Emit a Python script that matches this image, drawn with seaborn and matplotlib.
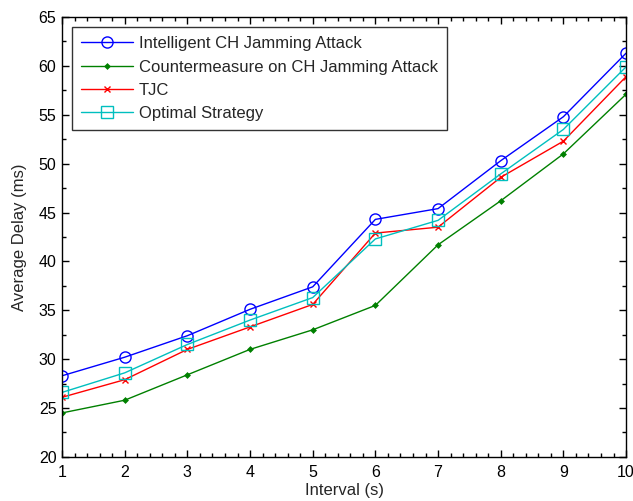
import pandas as pd
import matplotlib
matplotlib.use("Agg")
import matplotlib.pyplot as plt
from matplotlib.ticker import MultipleLocator
import seaborn as sns

intervals = [1, 2, 3, 4, 5, 6, 7, 8, 9, 10]
intelligent = [28.3, 30.2, 32.4, 35.1, 37.4, 44.3, 45.4, 50.3, 54.8, 61.3]
countermeasure = [24.5, 25.8, 28.4, 31.0, 33.0, 35.5, 41.7, 46.2, 51.0, 57.1]
tjc = [26.1, 27.9, 31.0, 33.3, 35.6, 42.9, 43.5, 48.6, 52.3, 58.9]
optimal = [26.6, 28.6, 31.5, 34.0, 36.3, 42.3, 44.2, 48.95, 53.5, 59.9]

labels = ["Intelligent CH Jamming Attack",
          "Countermeasure on CH Jamming Attack",
          "TJC",
          "Optimal Strategy"]

sns.set_style("white")
plt.rcParams["font.family"] = ["Liberation Sans", "DejaVu Sans"]

fig = plt.figure(figsize=(6.33, 5.01), dpi=100)
ax = fig.add_axes([0.098, 0.088, 0.891, 0.878])

styles = [
    (intelligent, "#0000ff", "o", dict(markersize=8, markerfacecolor="none", markeredgewidth=1.0)),
    (countermeasure, "#008000", "D", dict(markersize=3, markerfacecolor="#008000", markeredgewidth=0.5)),
    (tjc, "#ff0000", "x", dict(markersize=5, markeredgewidth=1.0)),
    (optimal, "#00bfbf", "s", dict(markersize=8, markerfacecolor="none", markeredgewidth=1.0)),
]

for (vals, col, mk, kw), lab in zip(styles, labels):
    df = pd.DataFrame({"Interval (s)": intervals, "Average Delay (ms)": vals})
    sns.lineplot(data=df, x="Interval (s)", y="Average Delay (ms)", ax=ax,
                 color=col, marker=mk, linewidth=1.0, label=lab,
                 markeredgecolor=col, **kw)

ax.set_xlim(1, 10)
ax.set_ylim(20, 65)
ax.xaxis.set_major_locator(MultipleLocator(1))
ax.xaxis.set_minor_locator(MultipleLocator(0.2))
ax.yaxis.set_major_locator(MultipleLocator(5))
ax.yaxis.set_minor_locator(MultipleLocator(2.5))
ax.tick_params(which="both", direction="in", top=True, right=True,
               bottom=True, left=True, colors="black", labelsize=11.5)
ax.tick_params(axis="x", pad=6)
ax.tick_params(axis="y", pad=4)
ax.tick_params(which="major", length=5, width=1)
ax.tick_params(which="minor", length=3, width=1)
for s in ax.spines.values():
    s.set_color("black")
    s.set_linewidth(1.0)

ax.set_xlabel("Interval (s)", fontsize=12, labelpad=2)
ax.set_ylabel("Average Delay (ms)", fontsize=12, labelpad=8)

leg = ax.legend(loc="upper left", fontsize=12, frameon=True, fancybox=False,
                borderaxespad=0.6, handlelength=3.1, labelspacing=0.5,
                borderpad=0.55, handletextpad=0.36)
leg.get_frame().set_edgecolor("black")
leg.get_frame().set_linewidth(1.0)

fig.savefig("out.png", dpi=100)
